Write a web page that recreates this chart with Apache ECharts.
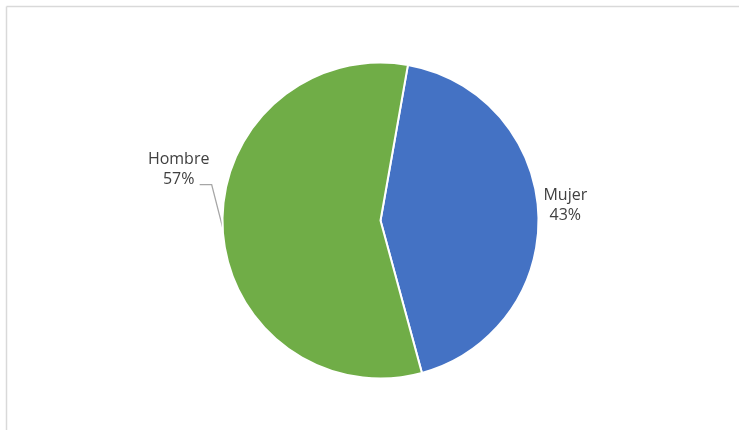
<!DOCTYPE html>
<html>
<head>
<meta charset="utf-8">
<script src="https://cdn.jsdelivr.net/npm/echarts@6/dist/echarts.min.js"></script>
<style>
  html, body { margin: 0; padding: 0; background: #ffffff; }
  #chart { width: 739px; height: 430px; }
</style>
</head>
<body>
<div id="chart"></div>
<script>
// Gender split
const categories = ['Mujer', 'Hombre'];
const shares = [43, 57];
const colors = ['#4472C4', '#70AD47'];

const chart = echarts.init(document.getElementById('chart'), null, { renderer: 'canvas' });

const pieData = categories.map((name, i) => ({
  name: name,
  value: shares[i],
  itemStyle: { color: colors[i] },
  labelLine: i === 0 ? { show: false } : { show: true }
}));

// Frame: only the top and left edges fall inside the view
const frameStyle = { stroke: '#d9d9d9', lineWidth: 1.5 };

chart.setOption({
  backgroundColor: '#ffffff',
  animation: false,
  graphic: [
    { type: 'line', silent: true, shape: { x1: 6.5, y1: 6.5, x2: 760, y2: 6.5 }, style: frameStyle },
    { type: 'line', silent: true, shape: { x1: 6.5, y1: 6.5, x2: 6.5, y2: 450 }, style: frameStyle }
  ],
  series: [{
    type: 'pie',
    center: [380.5, 220.5],
    radius: 158,
    startAngle: 80,
    clockwise: true,
    data: pieData,
    itemStyle: { borderColor: '#ffffff', borderWidth: 2 },
    label: {
      show: true,
      position: 'outside',
      formatter: '{b}\n{d}%',
      fontFamily: 'Open Sans',
      fontSize: 16,
      lineHeight: 20,
      color: '#404040',
      align: 'center'
    },
    labelLine: {
      length: 6,
      length2: 4,
      lineStyle: { color: '#a6a6a6', width: 1.3 }
    },
    labelLayout: function (params) {
      const p = params.labelLinePoints;
      if (!p) return {};
      const edge = p[0];
      if (params.dataIndex === 0) {
        return {
          x: edge[0] + 27,
          y: edge[1] - 8,
          align: 'center',
          verticalAlign: 'middle'
        };
      }
      return {
        x: edge[0] - 44,
        y: edge[1] - 58,
        align: 'center',
        verticalAlign: 'middle',
        labelLinePoints: [
          edge,
          [edge[0] - 11, edge[1] - 43],
          [edge[0] - 23, edge[1] - 43]
        ]
      };
    }
  }]
});
</script>
</body>
</html>
